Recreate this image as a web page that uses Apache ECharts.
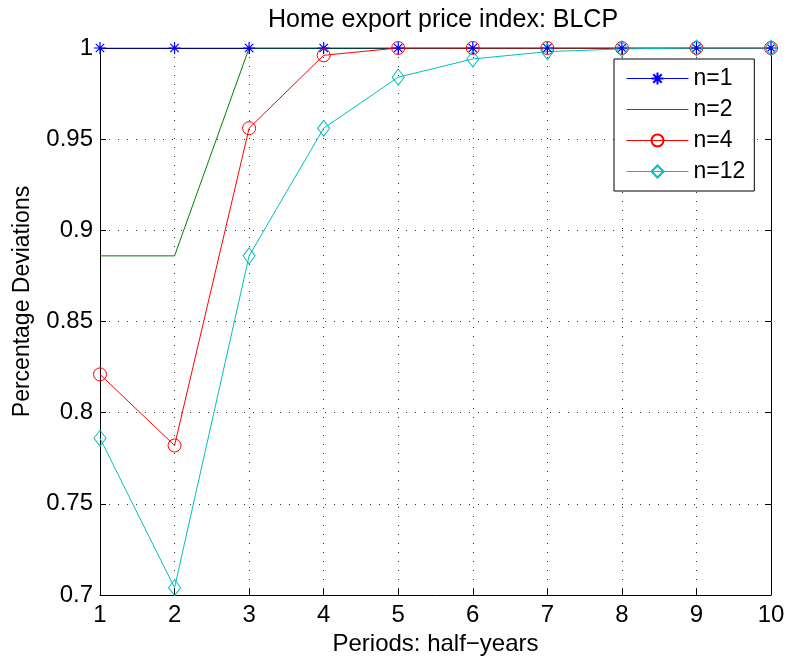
<!DOCTYPE html>
<html>
<head>
<meta charset="utf-8">
<script src="https://cdn.jsdelivr.net/npm/echarts@6/dist/echarts.min.js"></script>
<style>html,body{margin:0;padding:0;background:#fff;}#c{width:789px;height:663px;}</style>
</head>
<body>
<div id="c"></div>
<script>
var periods = [1,2,3,4,5,6,7,8,9,10];
var n1 = [1,1,1,1,1,1,1,1,1,1];
var n2 = [0.886,0.886,1,1,1,1,1,1,1,1];
var n4 = [0.821,0.782,0.956,0.996,1,1,1,1,1,1];
var n12 = [0.786,0.704,0.886,0.956,0.984,0.994,0.998,0.9995,1,1];
var seriesNames = ['n=1','n=2','n=4','n=12'];

function pairs(v){ return periods.map(function(p,i){ return [p, v[i]]; }); }
var FONT = 'Liberation Sans, Arial, Helvetica, sans-serif';
var asterisk = 'path://M0,5L10,5M5,0L5,10M1.5,1.5L8.5,8.5M8.5,1.5L1.5,8.5';
var ch = echarts.init(document.getElementById('c'), null, {renderer:'canvas'});
var axisBase = {
  type:'value', min:1, max:10, interval:1,
  axisLine:{show:true, onZero:false, lineStyle:{color:'#000', width:1}},
  axisTick:{show:true, inside:true, length:6, lineStyle:{color:'#000'}},
  splitLine:{show:false}
};
ch.setOption({
  animation:false,
  backgroundColor:'#fff',
  title:{text:'Home export price index: BLCP', left:438, textAlign:'center', top:3,
    textStyle:{fontFamily:FONT, fontSize:25, fontWeight:'normal', color:'#000'}},
  grid:{left:100, right:18, top:48, bottom:68},
  legend:{
    orient:'vertical', left:614, top:59,
    data:seriesNames,
    backgroundColor:'#fff', borderColor:'#000', borderWidth:1,
    padding:[8,9,8,12],
    itemWidth:62, itemHeight:15, itemGap:8,
    lineStyle:{width:1},
    textStyle:{fontFamily:FONT, fontSize:23, color:'#000'}
  },
  xAxis:[
    Object.assign({}, axisBase, {
      position:'bottom',
      name:'Periods: half\u2212years', nameLocation:'middle', nameGap:37,
      nameTextStyle:{fontFamily:FONT, fontSize:24, color:'#000'},
      axisLabel:{fontFamily:FONT, fontSize:24, color:'#000', margin:8},
      splitLine:{show:true, lineStyle:{color:'#333', type:[1,8], width:1}}
    }),
    Object.assign({}, axisBase, {position:'top', axisLabel:{show:false}})
  ],
  yAxis:[
    {
      type:'value', min:0.7, max:1, interval:0.05, position:'left',
      axisLine:{show:true, onZero:false, lineStyle:{color:'#000', width:1}},
      axisTick:{show:true, inside:true, length:6, lineStyle:{color:'#000'}},
      axisLabel:{fontFamily:FONT, fontSize:24, color:'#000', margin:7},
      splitLine:{show:true, lineStyle:{color:'#333', type:[1,8], width:1}},
      name:'Percentage Deviations', nameLocation:'middle', nameGap:66,
      nameTextStyle:{fontFamily:FONT, fontSize:23, color:'#000', padding:[0,0,0,40]}
    },
    {
      type:'value', min:0.7, max:1, interval:0.05, position:'right',
      axisLine:{show:true, onZero:false, lineStyle:{color:'#000', width:1}},
      axisTick:{show:true, inside:true, length:6, lineStyle:{color:'#000'}},
      axisLabel:{show:false}, splitLine:{show:false}
    }
  ],
  series:[
    {name:'n=1', type:'line', data:pairs(n1), symbol:asterisk, symbolSize:12,
      lineStyle:{color:'#0000ff', width:1},
      itemStyle:{color:'#0000ff', borderColor:'#0000ff', borderWidth:1.2}},
    {name:'n=2', type:'line', data:pairs(n2), symbol:'circle', showSymbol:false, symbolSize:0,
      lineStyle:{color:'#008000', width:1, opacity:1},
      itemStyle:{color:'#008000', opacity:0}},
    {name:'n=4', type:'line', data:pairs(n4), symbol:'circle', symbolSize:13,
      lineStyle:{color:'#ff0000', width:1},
      itemStyle:{color:'rgba(0,0,0,0)', borderColor:'#ff0000', borderWidth:1}},
    {name:'n=12', type:'line', data:pairs(n12), symbol:'diamond', symbolSize:[12,16],
      lineStyle:{color:'#00bfbf', width:1},
      itemStyle:{color:'rgba(0,0,0,0)', borderColor:'#00bfbf', borderWidth:1}}
  ]
});
</script>
</body>
</html>
